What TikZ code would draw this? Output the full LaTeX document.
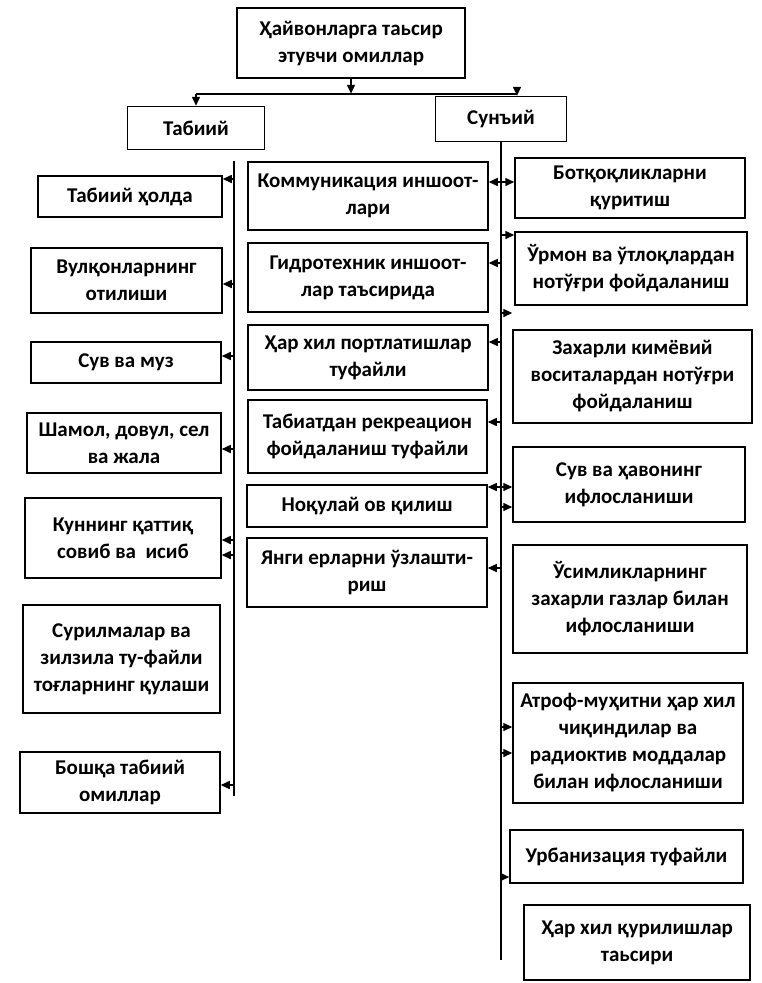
\documentclass[tikz,border=0pt]{standalone}
\usepackage{fontspec}
\setmainfont{Carlito}
\usetikzlibrary{arrows.meta, positioning}

\begin{document}
\begin{tikzpicture}[x=1pt, y=-1pt,
  box/.style={draw, line width=1.5pt, align=center, inner sep=2pt,
    font=\fontsize{21}{27}\selectfont\bfseries},
  bus/.style={line width=1.5pt},
  arr/.style={line width=1.5pt, -{Triangle[length=9pt,width=8pt]}}]
\useasboundingbox (0,0) rectangle (761,983);

% top of the tree
\node[box, minimum width=228, minimum height=70] (top) at (351,43) {Ҳайвонларга таьсир\\этувчи омиллар};
\node[box, minimum width=137, minimum height=43] (tab) at (196,128) {Табиий};
\node[box, minimum width=131, minimum height=45] (sun) at (501,119) {Сунъий};

\draw[arr] (top.south) -- ++(0,15) coordinate (jn);
\coordinate (sunin) at ([xshift=16pt]sun.north);
\draw[bus] (tab.north |- jn) -- (sunin |- jn);
\draw[arr] (tab.north |- jn) -- (tab.north);
\draw[arr] (sunin |- jn) -- (sunin);

% natural factors
\node[box, minimum width=184, minimum height=41] (l1) at (130,196.5) {Табиий ҳолда};
\node[box, minimum width=191, minimum height=65] (l2) at (126.5,280.5) {Вулқонларнинг\\отилиши};
\node[box, minimum width=190, minimum height=41] (l3) at (126,362.5) {Сув ва муз};
\node[box, minimum width=194, minimum height=60] (l4) at (124,443) {Шамол, довул, сел\\ва жала};
\node[box, minimum width=196, minimum height=80] (l5) at (123,538) {Куннинг қаттиқ\\совиб ва\ \ исиб};
\node[box, minimum width=197, minimum height=108] (l6) at (121.5,659) {Сурилмалар ва\\зилзила ту-файли\\тоғларнинг қулаши};
\node[box, minimum width=200, minimum height=61] (l7) at (120,782.5) {Бошқа табиий\\омиллар};

% artificial factors, middle column
\node[box, minimum width=240, minimum height=68] (m1) at (368,196) {Коммуникация иншоот-\\лари};
\node[box, minimum width=240, minimum height=69] (m2) at (368,277.5) {Гидротехник иншоот-\\лар таъсирида};
\node[box, minimum width=240, minimum height=65] (m3) at (368,357.5) {Ҳар хил портлатишлар\\туфайли};
\node[box, minimum width=239, minimum height=73] (m4) at (367.5,436.5) {Табиатдан рекреацион\\фойдаланиш туфайли};
\node[box, minimum width=240, minimum height=42] (m5) at (367,506) {Ноқулай ов қилиш};
\node[box, minimum width=240, minimum height=69] (m6) at (367,572.5) {Янги ерларни ўзлашти-\\риш};

% artificial factors, right column
\node[box, minimum width=230, minimum height=60] (r1) at (630,188) {Ботқоқликларни\\қуритиш};
\node[box, minimum width=232, minimum height=73] (r2) at (631,268.5) {Ўрмон ва ўтлоқлардан\\нотўғри фойдаланиш};
\node[box, minimum width=239, minimum height=93] (r3) at (632.5,376.5) {Захарли кимёвий\\воситалардан нотўғри\\фойдаланиш};
\node[box, minimum width=232, minimum height=75] (r4) at (629,484.5) {Сув ва ҳавонинг\\ифлосланиши};
\node[box, minimum width=234, minimum height=108] (r5) at (630,599) {Ўсимликларнинг\\захарли газлар билан\\ифлосланиши};
\node[box, minimum width=230, minimum height=120] (r6) at (628,743) {Атроф-муҳитни ҳар хил\\чиқиндилар ва\\радиоктив моддалар\\билан ифлосланиши};
\node[box, minimum width=233, minimum height=53] (r7) at (626.5,856.5) {Урбанизация туфайли};
\node[box, minimum width=226, minimum height=75] (r8) at (637,942.5) {Ҳар хил қурилишлар\\таьсири};

% buses
\coordinate (lbusT) at (234,161);
\coordinate (lbusB) at (234,796);
\draw[bus] (lbusT) -- (lbusB);
\draw[bus] (sun.south) -- ++(0,818) coordinate (rbusB);

% arrows off the buses
\foreach \y/\n in {179/l1, 284/l2, 356/l3, 449/l4, 540/l5, 555/l5, 785/l7} {
  \coordinate (s) at (lbusT |- 0,\y);
  \draw[arr] (s) -- (s -| \n.east);
}
\foreach \y/\n in {182/m1, 263/m2, 342/m3, 422/m4, 487/m5, 568/m6} {
  \coordinate (s) at (rbusB |- 0,\y);
  \draw[arr] (s) -- (s -| \n.east);
}
\foreach \y/\n in {182/r1, 235/r2, 313/r3, 487/r4, 507/r4, 727/r6, 753/r6, 877/r7} {
  \coordinate (s) at (rbusB |- 0,\y);
  \draw[arr] (s) -- (s -| \n.west);
}
\end{tikzpicture}
\end{document}
